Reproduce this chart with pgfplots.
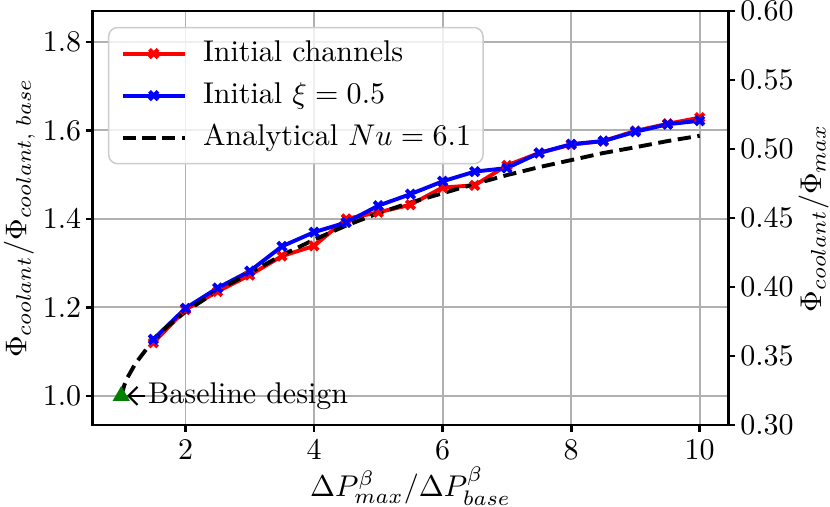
\documentclass[border=0pt]{standalone}
\usepackage{pgfplots}
\pgfplotsset{compat=1.18}
\usetikzlibrary{arrows.meta}
\definecolor{mplgreen}{HTML}{008000}
\definecolor{gridgray}{HTML}{B0B0B0}
\definecolor{legframe}{HTML}{CCCCCC}
\begin{document}
\begin{tikzpicture}
\pgfplotsset{
  common/.style={
    width=212.1pt, height=138pt, scale only axis,
    xmin=0.55, xmax=10.45,
    tick align=outside,
    major tick length=2.2pt,
    axis line style={line width=0.9pt},
    every tick/.style={black, line width=0.9pt},
  }
}
\begin{axis}[
  common,
  ymin=0.934, ymax=1.870,
  xtick={2,4,6,8,10},
  ytick={1.0,1.2,1.4,1.6,1.8},
  xtick pos=bottom, ytick pos=left,
  grid=major,
  major grid style={color=gridgray, line width=0.65pt},
  yticklabel style={inner sep=0pt, xshift=-1.3pt, /pgf/number format/.cd, fixed, fixed zerofill, precision=1},
  xticklabel style={inner sep=0pt, yshift=-2.8pt},
  xlabel={$\Delta P^\beta_{max}/\Delta P^\beta_{base}$},
  ylabel={$\Phi_{coolant}/\Phi_{coolant,\;base}$},
  every axis x label/.style={at={(axis description cs:0.5,-0.1717)}, anchor=base, inner sep=0pt},
  every axis y label/.style={at={(axis description cs:-0.140,0.5)}, rotate=90, anchor=north, inner sep=0pt},
  legend cell align=left,
  legend image code/.code={\draw[mark repeat=2, mark phase=2] plot coordinates {(0cm,0cm) (0.365cm,0cm) (0.73cm,0cm)};},
  legend style={at={(0.0245,0.962)}, anchor=north west,
    draw=legframe, line width=0.5pt, rounded corners=3pt,
    fill=white, fill opacity=0.8, text opacity=1, draw opacity=1,
    inner xsep=4pt, inner ysep=4.2pt, row sep=5pt, column sep=5.4pt,
    nodes={inner sep=0pt, text height=7pt, text depth=2pt}},
]
\addplot[red, line width=1.3pt, mark=x, mark size=2pt] coordinates {
(1.5,1.120) (2,1.195) (2.5,1.236) (3,1.273) (3.5,1.316) (4,1.339)
(4.5,1.400) (5,1.415) (5.5,1.432) (6,1.471) (6.5,1.476) (7,1.521)
(7.5,1.549) (8,1.568) (8.5,1.576) (9,1.599) (9.5,1.615) (10,1.629)
};
\addlegendentry{Initial channels}
\addplot[blue, line width=1.3pt, mark=x, mark size=2pt] coordinates {
(1.5,1.128) (2,1.198) (2.5,1.244) (3,1.282) (3.5,1.338) (4,1.370)
(4.5,1.392) (5,1.430) (5.5,1.456) (6,1.485) (6.5,1.507) (7,1.515)
(7.5,1.549) (8,1.569) (8.5,1.576) (9,1.597) (9.5,1.614) (10,1.622)
};
\addlegendentry{Initial $\xi = 0.5$}
\addplot[black, line width=1.3pt, dash pattern=on 4.4pt off 2.2pt] coordinates {
(1.00,1.000) (1.05,1.025) (1.10,1.042) (1.22,1.073) (1.42,1.111) (1.70,1.155)
(2.00,1.190) (2.50,1.238) (3.00,1.278) (3.50,1.318) (4.00,1.353)
(4.50,1.385) (5.00,1.413) (5.50,1.437) (6.00,1.458) (6.50,1.479)
(7.00,1.499) (7.50,1.517) (8.00,1.533) (8.50,1.549) (9.00,1.562)
(9.50,1.576) (10.0,1.588)
};
\addlegendentry{Analytical $Nu = 6.1$}
\addplot[only marks, mark=triangle*, mark size=2.9pt, color=mplgreen, forget plot] coordinates {(1,1.0)};
\draw[-{Straight Barb[length=3pt,width=6pt]}, line width=0.7pt] (axis cs:1.37,1.0) -- (axis cs:1.09,1.0);
\node[anchor=west, inner sep=0pt] at (axis cs:1.41,1.0) {Baseline design};
\end{axis}
\begin{axis}[
  common,
  clip=false,
  ymin=0.30, ymax=0.60,
  axis x line=none,
  axis y line*=right,
  ytick={0.3,0.35,0.4,0.45,0.5,0.55,0.6},
  yticklabel style={inner sep=0pt, xshift=1.5pt, /pgf/number format/.cd, fixed, fixed zerofill, precision=2},
]
\node[rotate=90, anchor=south, inner sep=0pt] at (rel axis cs:1.158,0.5) {$\Phi_{coolant}/\Phi_{max}$};
\end{axis}
\pgfresetboundingbox
\path[use as bounding box] (-30.77pt,-27pt) rectangle (245.87pt,141.67pt);
\end{tikzpicture}
\end{document}
